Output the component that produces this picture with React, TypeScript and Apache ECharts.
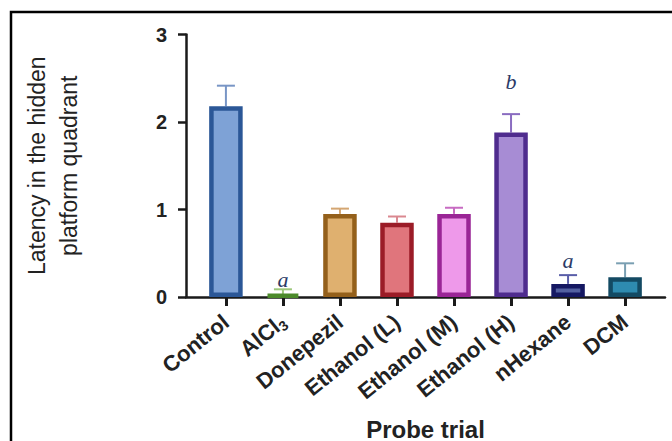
import React, { useEffect, useRef } from "react";
import * as echarts from "echarts";

const categories = ["Control", "AlCl3", "Donepezil", "Ethanol (L)", "Ethanol (M)", "Ethanol (H)", "nHexane", "DCM"];
const means = [2.18, 0.03, 0.95, 0.85, 0.95, 1.88, 0.15, 0.225];
const sems = [0.235, 0.058, 0.06, 0.07, 0.07, 0.21, 0.1, 0.16];
const fillColors = ["#7EA2D6", "#8CC05E", "#DFB06F", "#E0757C", "#EE99EA", "#A78CD4", "#5360A0", "#2E8BB0"];
const borderColors = ["#2B5797", "#4C8A2B", "#94601B", "#9B1C27", "#9A2596", "#4F2C8E", "#151862", "#134A63"];
const errColors = ["#7895C5", "#9CC77A", "#D4A672", "#DA8890", "#C76BC2", "#8A6CC0", "#5A5EA8", "#7A9FB2"];
const letterIdx = [1, 5, 6];
const letterY = [0.2, 2.46, 0.42];
const letterText = ["a", "b", "a"];
const yTicks = [0, 1, 2, 3];

const FONT = "'Liberation Sans', Arial, Helvetica, sans-serif";

export default function App() {
  const ref = useRef<HTMLDivElement>(null);
  useEffect(() => {
    document.body.style.margin = "0";
    const chart = echarts.init(ref.current!, null, { renderer: "svg" });
    const idx = categories.map((_, i) => i);
    chart.setOption({
      animation: false,
      backgroundColor: "#ffffff",
      graphic: [
        {
          type: "rect",
          shape: { x: 11, y: 12, width: 720, height: 520 },
          style: { fill: "none", stroke: "#000", lineWidth: 2.5 },
          silent: true,
        },
      ],
      grid: { left: 186, right: 7, top: 34.5, bottom: 144, containLabel: false, outerBoundsMode: "none" },
      xAxis: {
        type: "value",
        min: -0.7,
        max: 7.7,
        splitLine: { show: false },
        axisLine: { show: true, onZero: false, lineStyle: { color: "#1a1a1a", width: 2.5 } },
        axisTick: { show: true, customValues: idx, length: 9, lineStyle: { color: "#1a1a1a", width: 3 } },
        axisLabel: {
          show: true,
          customValues: idx,
          rotate: 39,
          margin: 22,
          fontFamily: FONT,
          fontWeight: "bold",
          fontSize: 22,
          color: "#222",
          formatter: (v: number) => {
            const c = categories[Math.round(v)] ?? "";
            if (c === "AlCl3") return "AlCl{sub|3}";
            return c;
          },
          rich: {
            sub: { fontSize: 14, fontFamily: FONT, color: "#222", padding: [11, 0, 0, 0] },
          },
        },
        name: "Probe trial",
        nameLocation: "middle",
        nameGap: 120,
        nameTextStyle: { fontFamily: FONT, fontWeight: "bold", fontSize: 24, color: "#222" },
      },
      yAxis: {
        type: "value",
        min: 0,
        max: 3,
        interval: 1,
        splitLine: { show: false },
        axisLine: { show: true, onZero: false, lineStyle: { color: "#1a1a1a", width: 2.5 } },
        axisTick: { show: true, length: 8, lineStyle: { color: "#1a1a1a", width: 2.5 } },
        axisLabel: {
          margin: 19,
          fontFamily: FONT,
          fontWeight: "bold",
          fontSize: 20,
          color: "#222",
          formatter: (v: number) => (yTicks.includes(v) ? String(v) : ""),
        },
        name: "Latency in the hidden\nplatform quadrant",
        nameLocation: "middle",
        nameGap: 101,
        nameTextStyle: { fontFamily: FONT, fontSize: 23, lineHeight: 32, color: "#222" },
      },
      series: [
        {
          type: "custom",
          z: 1,
          data: idx.map((i) => [i, means[i], sems[i]]),
          renderItem: (params: any, api: any) => {
            const i = api.value(0);
            const m = api.value(1);
            const e = api.value(2);
            const p0 = api.coord([i, m]);
            const p1 = api.coord([i, m + e]);
            const stroke = errColors[params.dataIndex];
            return {
              type: "group",
              children: [
                { type: "line", shape: { x1: p0[0], y1: p0[1], x2: p1[0], y2: p1[1] }, style: { stroke, lineWidth: 2 } },
                { type: "line", shape: { x1: p1[0] - 9, y1: p1[1], x2: p1[0] + 9, y2: p1[1] }, style: { stroke, lineWidth: 2 } },
              ],
            };
          },
        },
        {
          type: "bar",
          z: 2,
          barWidth: 33.5,
          data: idx.map((i) => ({
            value: [i, means[i]],
            itemStyle: { color: fillColors[i], borderColor: borderColors[i], borderWidth: 4.5 },
          })),
        },
        {
          type: "custom",
          z: 3,
          data: letterIdx.map((xi, k) => [xi, letterY[k]]),
          renderItem: (params: any, api: any) => {
            const p = api.coord([api.value(0), api.value(1)]);
            return {
              type: "text",
              x: p[0],
              y: p[1],
              style: {
                text: letterText[params.dataIndex],
                fontFamily: "'Liberation Serif', 'Times New Roman', serif",
                fontStyle: "italic",
                fontSize: 22,
                fill: "#2b3a67",
                align: "center",
                verticalAlign: "middle",
              },
            };
          },
        },
      ],
    });
    return () => chart.dispose();
  }, []);
  return <div ref={ref} style={{ width: 672, height: 441 }} />;
}
